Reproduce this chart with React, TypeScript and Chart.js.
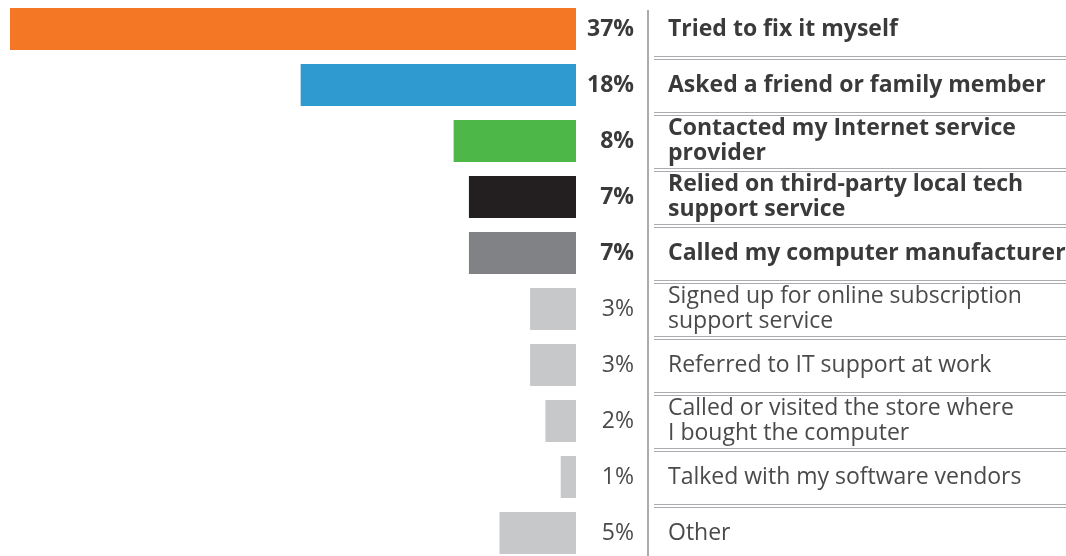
import React, { useEffect, useRef } from "react";
import { Chart, registerables } from "chart.js";

Chart.register(...registerables);

const categories: (string | string[])[] = [
  "Tried to fix it myself",
  "Asked a friend or family member",
  ["Contacted my Internet service", "provider"],
  ["Relied on third-party local tech", "support service"],
  "Called my computer manufacturer",
  ["Signed up for online subscription", "support service"],
  "Referred to IT support at work",
  ["Called or visited the store where", "I bought the computer"],
  "Talked with my software vendors",
  "Other",
];

const values: number[] = [37, 18, 8, 7, 7, 3, 3, 2, 1, 5];

const barColors: string[] = [
  "#F47726",
  "#2E9AD0",
  "#4DB848",
  "#231F20",
  "#808285",
  "#C7C8CA",
  "#C7C8CA",
  "#C7C8CA",
  "#C7C8CA",
  "#C7C8CA",
];

const boldCount = 5;
const FONT = "'Open Sans', 'Noto Sans', sans-serif";
const FONT_SIZE = 23;
const TEXT_BOLD = "#3a3a3a";
const TEXT_NORMAL = "#4a4a4a";
const RULE = "#a9abae";

const overlay = {
  id: "overlay",
  afterDraw(chart: any) {
    const { ctx, chartArea, scales } = chart;
    const y = scales.y;
    const right = chartArea.right;
    const pctX = right + 58;
    const vX = right + 72;
    ctx.save();
    // vertical divider
    ctx.strokeStyle = RULE;
    ctx.lineWidth = 2;
    ctx.beginPath();
    ctx.moveTo(vX, 10);
    ctx.lineTo(vX, chart.height);
    ctx.stroke();
    // percent labels
    ctx.textAlign = "right";
    ctx.textBaseline = "middle";
    values.forEach((v, i) => {
      const yy = y.getPixelForValue(i);
      const bold = i < boldCount;
      ctx.font = `${bold ? "bold " : ""}${FONT_SIZE}px ${FONT}`;
      ctx.fillStyle = bold ? TEXT_BOLD : TEXT_NORMAL;
      ctx.fillText(`${v}%`, pctX, yy);
    });
    // double separator rules
    ctx.strokeStyle = RULE;
    ctx.lineWidth = 1;
    for (let i = 0; i < values.length - 1; i++) {
      const yb = (y.getPixelForValue(i) + y.getPixelForValue(i + 1)) / 2;
      [yb - 1.5, yb + 1.5].forEach((ly) => {
        const py = Math.round(ly) + 0.5;
        ctx.beginPath();
        ctx.moveTo(vX + 6, py);
        ctx.lineTo(chart.width, py);
        ctx.stroke();
      });
    }
    ctx.restore();
  },
};

export default function App() {
  const canvasRef = useRef<HTMLCanvasElement | null>(null);

  useEffect(() => {
    document.body.style.margin = "0";
    document.body.style.overflow = "hidden";
    document.documentElement.style.overflow = "hidden";
    const canvas = canvasRef.current;
    if (!canvas) return;
    const chart = new Chart(canvas, {
      type: "bar",
      data: {
        labels: categories as any,
        datasets: [
          {
            data: values,
            backgroundColor: barColors,
            borderWidth: 0,
            barPercentage: 0.75,
            categoryPercentage: 1,
          },
        ],
      },
      options: {
        indexAxis: "y",
        responsive: false,
        maintainAspectRatio: false,
        animation: false,
        layout: { padding: { left: 10, top: 1, right: 0, bottom: 0 } },
        plugins: {
          legend: { display: false },
          tooltip: { enabled: false },
        },
        scales: {
          x: {
            reverse: true,
            min: 0,
            max: 37,
            display: false,
          },
          y: {
            position: "right",
            grid: {
              display: true,
              drawOnChartArea: false,
              drawTicks: true,
              tickLength: 92,
              color: "rgba(0,0,0,0)",
            },
            border: { display: false },
            afterFit: (scale: any) => {
              scale.width = 490;
              scale.paddingTop = 0;
              scale.paddingBottom = 0;
            },
            ticks: {
              padding: 0,
              autoSkip: false,
              crossAlign: "near",
              color: (c: any) => (c.index < boldCount ? TEXT_BOLD : TEXT_NORMAL),
              font: (c: any) => ({
                family: FONT,
                size: FONT_SIZE,
                weight: c.index < boldCount ? "bold" : "normal",
                lineHeight: 1.05,
              }),
            },
          },
        },
      },
      plugins: [overlay],
    });
    return () => chart.destroy();
  }, []);

  return (
    <div style={{ width: 1066, height: 556, overflow: "hidden", background: "#fff" }}>
      <canvas ref={canvasRef} width={1066} height={561} style={{ display: "block" }} />
    </div>
  );
}
